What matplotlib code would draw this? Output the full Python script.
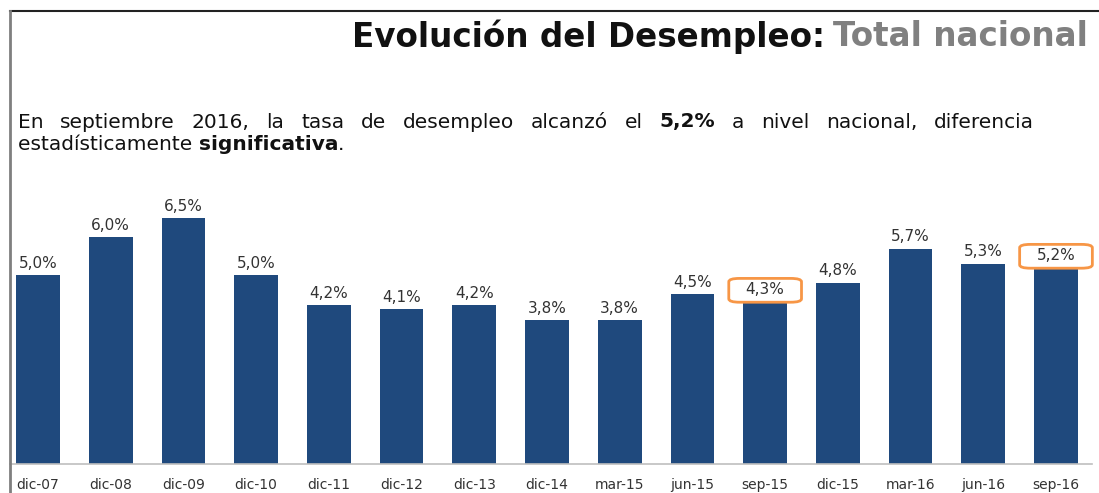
import matplotlib
matplotlib.use("Agg")
import matplotlib.pyplot as plt
from matplotlib.patches import FancyBboxPatch
from matplotlib.lines import Line2D

# datos
periodos = ["dic-07", "dic-08", "dic-09", "dic-10", "dic-11", "dic-12", "dic-13",
            "dic-14", "mar-15", "jun-15", "sep-15", "dic-15", "mar-16", "jun-16", "sep-16"]
tasa = [5.0, 6.0, 6.5, 5.0, 4.2, 4.1, 4.2, 3.8, 3.8, 4.5, 4.3, 4.8, 5.7, 5.3, 5.2]
resaltados = ["sep-15", "sep-16"]

W, H = 1099, 493
BAR = "#1F497D"
NARANJA = "#F79646"
GRIS_TXT = "#333333"
FUENTE = "DejaVu Sans"

fig = plt.figure(figsize=(W / 100, H / 100), dpi=100)

# marco: linea superior negra y linea izquierda gris
fig.add_artist(Line2D([10 / W, 1], [1 - 11 / H, 1 - 11 / H], color="#222222", lw=1.5,
                      transform=fig.transFigure))
fig.add_artist(Line2D([10 / W, 10 / W], [0, 1 - 11 / H], color="#7F7F7F", lw=2,
                      transform=fig.transFigure))

# titulo
t2 = fig.text(1088 / W, 1 - 37 / H, "Total nacional", ha="right", va="center",
              fontsize=23.5, fontweight="bold", color="#808080", family=FUENTE)
fig.canvas.draw()
r = fig.canvas.get_renderer()
bb = t2.get_window_extent(r)
fig.text((bb.x0 - 8) / W, 1 - 37 / H, "Evolución del Desempleo:", ha="right", va="center",
         fontsize=23.5, fontweight="bold", color="#111111", family=FUENTE)

# texto justificado
linea1 = [("En", False), ("septiembre", False), ("2016,", False), ("la", False), ("tasa", False),
          ("de", False), ("desempleo", False), ("alcanzó", False), ("el", False), ("5,2%", True),
          ("a", False), ("nivel", False), ("nacional,", False), ("diferencia", False)]
x_ini, x_fin = 18, 1034
y1 = H - 122
objs = []
for w, b in linea1:
    t = fig.text(0, y1 / H, w, fontsize=14.5, family=FUENTE, color="#111111",
                 fontweight="bold" if b else "normal", va="center")
    objs.append(t)
fig.canvas.draw()
anchos = [o.get_window_extent(r).width for o in objs]
hueco = (x_fin - x_ini - sum(anchos)) / (len(objs) - 1)
x = x_ini
for o, a in zip(objs, anchos):
    o.set_x(x / W)
    x += a + hueco

y2 = H - 145
x = x_ini
for w, b in [("estadísticamente ", False), ("significativa", True), (".", False)]:
    t = fig.text(x / W, y2 / H, w, fontsize=14.5, family=FUENTE, color="#111111",
                 fontweight="bold" if b else "normal", va="center")
    fig.canvas.draw()
    x += t.get_window_extent(r).width

# grafico de barras
n = len(periodos)
paso = (1056 - 38) / (n - 1)
x0 = (10 - 38) / paso
x1 = (1092 - 38) / paso
ax = fig.add_axes([10 / W, 29 / H, 1082 / W, 7 * 37.8 / H])
pos = list(range(n))
ax.bar(pos, tasa, width=0.6, color=BAR, zorder=2)
ax.set_xlim(x0, x1)
ax.set_ylim(0, 7)
for s in ["top", "right", "left"]:
    ax.spines[s].set_visible(False)
ax.spines["bottom"].set_color("#BFBFBF")
ax.spines["bottom"].set_linewidth(1.2)
ax.set_yticks([])
ax.set_xticks(pos)
ax.set_xticklabels(periodos, fontsize=10, family=FUENTE, color=GRIS_TXT)
ax.tick_params(axis="x", length=0, pad=18)
for lab in ax.get_xticklabels():
    lab.set_verticalalignment("baseline")

for i, v in enumerate(tasa):
    ax.annotate(f"{v:.1f}%".replace(".", ","), (i, v), xytext=(0, 3),
                textcoords="offset points", ha="center", va="bottom",
                fontsize=11, family=FUENTE, color=GRIS_TXT)
    if periodos[i] in resaltados:
        caja = FancyBboxPatch((i - 0.5, v - 0.02), 1.0, 0.63,
                              boxstyle="round,pad=0,rounding_size=0.15",
                              mutation_aspect=0.6,
                              fill=False, ec=NARANJA, lw=2, zorder=3, clip_on=False)
        ax.add_patch(caja)

fig.savefig("out.png", dpi=100)
